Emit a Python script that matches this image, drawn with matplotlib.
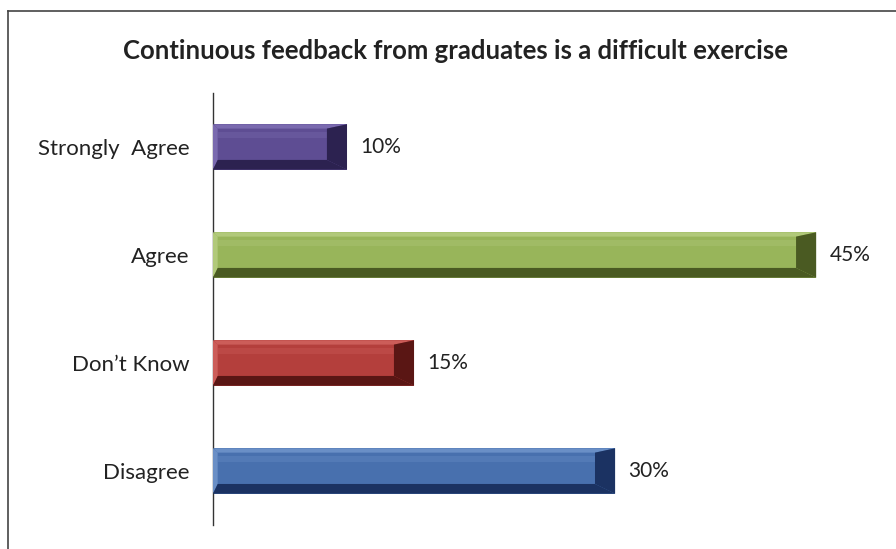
import matplotlib.pyplot as plt
from matplotlib.lines import Line2D
from matplotlib.patches import Polygon, Rectangle

categories = ["Strongly  Agree", "Agree", "Don\u2019t Know", "Disagree"]
percents = [10, 45, 15, 30]
face_colors = ["#5e4d93", "#98b55a", "#b43f3c", "#4870ae"]
light_colors = ["#7a6aaf", "#b1c97a", "#cc5d59", "#6a8fc6"]
dark_colors = ["#2c2250", "#4a5a22", "#5a1614", "#1b3262"]

plt.rcParams["font.family"] = ["Lato", "DejaVu Sans"]

fig = plt.figure(figsize=(8.96, 5.49), dpi=100)
ax = fig.add_axes([0.2377, 0.0437, 0.748, 0.787])

bar_h = 0.42
ypos = list(range(len(categories)))
bars = ax.barh(ypos, percents, height=bar_h, color=face_colors, edgecolor="none", zorder=2)

# bevel faces built from each bar's own extent
bl, br, bt, bb = 0.35, 1.5, 0.04, 0.09
for rect, light, dark in zip(bars, light_colors, dark_colors):
    x0 = rect.get_x()
    x1 = x0 + rect.get_width()
    yt = rect.get_y()
    yb = yt + rect.get_height()
    top = [(x0, yt), (x1, yt), (x1 - br, yt + bt), (x0 + bl, yt + bt)]
    bottom = [(x0, yb), (x1, yb), (x1 - br, yb - bb), (x0 + bl, yb - bb)]
    right = [(x1, yt), (x1, yb), (x1 - br, yb - bb), (x1 - br, yt + bt)]
    left = [(x0, yt), (x0, yb), (x0 + bl, yb - bb), (x0 + bl, yt + bt)]
    ax.add_patch(Polygon(top, closed=True, color=light, lw=0, zorder=3))
    ax.add_patch(Polygon(left, closed=True, color=light, lw=0, zorder=3))
    ax.add_patch(Polygon(bottom, closed=True, color=dark, lw=0, zorder=3))
    ax.add_patch(Polygon(right, closed=True, color=dark, lw=0, zorder=4))
    # soft highlight band along the face
    ax.add_patch(Rectangle((x0 + bl, yt + bt + 0.03), x1 - x0 - bl - br, 0.06,
                           color=light, alpha=0.35, lw=0, zorder=3))
    ax.text(x1 + 1.0, rect.get_y() + rect.get_height() / 2, f"{int(rect.get_width())}%",
            va="center", ha="left", fontsize=15, color="#222222")

ax.set_xlim(0, 50)
ax.set_ylim(3.5, -0.5)
ax.set_yticks(ypos)
ax.set_yticklabels(categories, fontsize=16, color="#222222")
ax.tick_params(axis="y", length=0, pad=17)
ax.set_xticks([])
for side in ["top", "right", "bottom"]:
    ax.spines[side].set_visible(False)
ax.spines["left"].set_color("#333333")
ax.spines["left"].set_linewidth(1)

fig.text(0.508, 0.908, "Continuous feedback from graduates is a difficult exercise",
         ha="center", va="center", fontsize=18.5, fontweight="bold", color="#222222")

# outer chart border, left and top edges only
fig.add_artist(Line2D([0.009, 0.009], [0.0, 0.98], transform=fig.transFigure,
                      color="#444444", lw=1.2))
fig.add_artist(Line2D([0.009, 1.0], [0.98, 0.98], transform=fig.transFigure,
                      color="#444444", lw=1.2))

fig.savefig("out.png", dpi=100)
